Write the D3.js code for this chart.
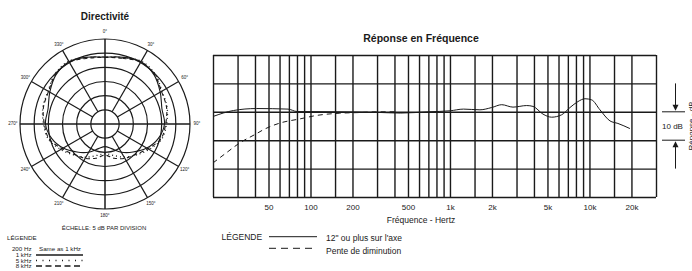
<!DOCTYPE html>
<html>
<head>
<meta charset="utf-8">
<script src="https://cdn.jsdelivr.net/npm/d3@7"></script>
<style>
  body { margin: 0; background: #fff; }
  svg { font-family: "Liberation Sans", Arial, sans-serif; }
</style>
</head>
<body>
<div id="chart"></div>
<script>
// polar pattern, dB at each angle (0..180, mirrored for the other side)
const polarAngles = [0, 15, 30, 45, 60, 75, 90, 105, 120, 135, 150, 165, 180];
const pol1k = [-6.4, -5.6, -4.6, -5.5, -7.5, -9.2, -9.0, -10.5, -13, -16, -18.5, -21, -22];
const pol5k = [-6.3, -5.7, -4.4, -5.0, -6.8, -7.3, -8.3, -9.3, -12, -14.5, -16.5, -18.5, -19.5];
const pol8k = [-6.5, -6.0, -4.8, -5.3, -7.0, -7.5, -8.6, -9.6, -12.5, -14.8, -16, -17.5, -19];
const ringDb = [-25, -20, -15, -10, -5, 0];
const spokeAngles = [0, 30, 60, 90, 120, 150, 180, 210, 240, 270, 300, 330];

// frequency response
const respFreq = [20, 28, 41, 69, 80, 150, 300, 440, 700, 1000, 1250, 1640, 1990, 2350, 2830, 3550, 3940, 4640, 5360, 6320, 7250, 8270, 9290, 10370, 11890, 14030, 16000, 19500];
const respDb = [-1.65, 0.45, 1.15, 0.95, 0.1, 0, -0.2, -0.45, 0, 0.35, 0.95, 0.7, 1.5, 2.5, 1.65, 2.2, 1.9, -0.8, -1.9, -1.05, 1.5, 3.6, 4.6, 4.2, 0.7, -3.2, -4.1, -5.9];
const rollFreq = [20, 25, 31, 41, 46, 61, 84, 110, 162, 227, 300, 400];
const rollDb = [-18, -14.4, -11, -7.7, -6.3, -3.9, -2.5, -1.3, -0.5, -0.25, 0, 0];
const gridFreqs = [20, 30, 40, 50, 60, 70, 80, 90, 100, 150, 200, 300, 400, 500, 600, 700, 800, 900,
  1000, 1500, 2000, 3000, 4000, 5000, 6000, 7000, 8000, 9000, 10000, 15000, 20000, 30000];
const tickFreqs = [50, 100, 200, 500, 1000, 2000, 5000, 10000, 20000];
const tickLabels = ["50", "100", "200", "500", "1k", "2k", "5k", "10k", "20k"];
const gridDb = [-30, -20, -10, 0, 10, 20];

const width = 692, height = 271;
const ink = "#1a1a1a";

const svg = d3.select("#chart").append("svg").attr("width", width).attr("height", height);

// ---------- polar ----------
const cx = 105, cy = 124, R = 85;
const rScale = d3.scaleLinear().domain([-30, 0]).range([0, R]);
const pg = svg.append("g").attr("transform", `translate(${cx},${cy})`);

svg.append("text")
  .attr("x", cx).attr("y", 20)
  .attr("text-anchor", "middle")
  .style("font-size", "10px").style("font-weight", "bold")
  .style("fill", ink)
  .text("Directivité");

pg.selectAll(".ring").data(ringDb).join("circle")
  .attr("r", d => rScale(d))
  .attr("fill", "none").attr("stroke", ink).attr("stroke-width", 1.2);

pg.selectAll(".spoke").data(spokeAngles).join("line")
  .attr("x1", d => (d % 90 === 0 ? 0 : rScale(ringDb[0])) * Math.sin(d * Math.PI / 180))
  .attr("y1", d => -(d % 90 === 0 ? 0 : rScale(ringDb[0])) * Math.cos(d * Math.PI / 180))
  .attr("x2", d => R * Math.sin(d * Math.PI / 180))
  .attr("y2", d => -R * Math.cos(d * Math.PI / 180))
  .attr("stroke", ink).attr("stroke-width", d => d % 90 === 0 ? 1.5 : 1.2);

pg.selectAll(".alabel").data(spokeAngles).join("text")
  .attr("x", d => 92 * Math.sin(d * Math.PI / 180))
  .attr("y", d => -92 * Math.cos(d * Math.PI / 180))
  .attr("text-anchor", "middle").attr("dominant-baseline", "middle")
  .style("font-size", "4.5px").style("fill", ink)
  .text(d => d + "°");

function mirror(vals) {
  const pts = polarAngles.map((a, i) => ({ a: a, db: vals[i] }));
  const back = polarAngles.slice(1, -1).reverse().map(a => ({ a: 360 - a, db: vals[polarAngles.indexOf(a)] }));
  return pts.concat(back);
}

const radial = d3.lineRadial()
  .angle(d => d.a * Math.PI / 180)
  .radius(d => rScale(d.db))
  .curve(d3.curveCardinalClosed);

pg.append("path").attr("d", radial(mirror(pol5k)))
  .attr("fill", "none").attr("stroke", ink).attr("stroke-width", 1.3)
  .attr("stroke-dasharray", "1,3");
pg.append("path").attr("d", radial(mirror(pol8k)))
  .attr("fill", "none").attr("stroke", ink).attr("stroke-width", 1.1)
  .attr("stroke-dasharray", "4,3");
pg.append("path").attr("d", radial(mirror(pol1k)))
  .attr("fill", "none").attr("stroke", ink).attr("stroke-width", 1.1);

svg.append("text")
  .attr("x", 104).attr("y", 230)
  .attr("text-anchor", "middle")
  .style("font-size", "6px").style("fill", ink)
  .text("ÉCHELLE: 5 dB PAR DIVISION");

svg.append("text")
  .attr("x", 7).attr("y", 239.5)
  .style("font-size", "6.2px").style("fill", ink)
  .text("LÉGENDE");

const polLegend = [
  { label: "200 Hz", y: 249, dash: null },
  { label: "1 kHz", y: 255, dash: "" },
  { label: "5 kHz", y: 260.5, dash: "1,5.5" },
  { label: "8 kHz", y: 266, dash: "6,3.5" }
];
polLegend.forEach(d => {
  svg.append("text")
    .attr("x", 31.5).attr("y", d.y + 2)
    .attr("text-anchor", "end")
    .style("font-size", "6.2px").style("fill", ink)
    .text(d.label);
  if (d.dash !== null) {
    svg.append("line")
      .attr("x1", 36).attr("x2", 83).attr("y1", d.y).attr("y2", d.y)
      .attr("stroke", ink).attr("stroke-width", d.dash === "1,5.5" ? 1.4 : 1.3)
      .attr("stroke-dasharray", d.dash);
  }
});
svg.append("text")
  .attr("x", 39).attr("y", 251)
  .style("font-size", "6.2px").style("fill", ink)
  .text("Same as 1 kHz");

// ---------- frequency response ----------
const x = d3.scaleLog().domain([20, 30000]).range([213, 656]);
const y = d3.scaleLinear().domain([-30, 20]).range([197, 55]);

svg.append("text")
  .attr("x", 421).attr("y", 42)
  .attr("text-anchor", "middle")
  .style("font-size", "10.5px").style("font-weight", "bold")
  .style("fill", ink)
  .text("Réponse en Fréquence");

const vgrid = svg.append("g")
  .attr("transform", `translate(0,${y(-30)})`)
  .call(d3.axisBottom(x).tickValues(gridFreqs).tickSize(-(y(-30) - y(20))).tickFormat(""));
vgrid.select(".domain").remove();
vgrid.selectAll("line").attr("stroke", ink).attr("stroke-width", 1.4);

const hgrid = svg.append("g")
  .attr("transform", `translate(${x(20)},0)`)
  .call(d3.axisLeft(y).tickValues(gridDb).tickSize(-(x(30000) - x(20))).tickFormat(""));
hgrid.select(".domain").remove();
hgrid.selectAll("line").attr("stroke", ink).attr("stroke-width", 1.4);

const xlab = svg.append("g")
  .attr("transform", `translate(0,${y(-30) + 4})`)
  .call(d3.axisBottom(x).tickValues(tickFreqs).tickSize(0).tickFormat((d, i) => tickLabels[i]));
xlab.select(".domain").remove();
xlab.selectAll("text")
  .style("font-family", "Liberation Sans, Arial, sans-serif")
  .style("font-size", "8px").style("fill", ink);

svg.append("text")
  .attr("x", 421).attr("y", 223)
  .attr("text-anchor", "middle")
  .style("font-size", "8.5px").style("fill", ink)
  .text("Fréquence - Hertz");

const line = d3.line()
  .x(d => x(d[0]))
  .y(d => y(d[1]))
  .curve(d3.curveMonotoneX);

svg.append("path")
  .attr("d", line(rollFreq.map((f, i) => [f, rollDb[i]])))
  .attr("fill", "none").attr("stroke", ink).attr("stroke-width", 1)
  .attr("stroke-dasharray", "5,4");

svg.append("path")
  .attr("d", line(respFreq.map((f, i) => [f, respDb[i]])))
  .attr("fill", "none").attr("stroke", ink).attr("stroke-width", 1);

// 10 dB scale marker
svg.append("line").attr("x1", 662).attr("x2", 685).attr("y1", y(0)).attr("y2", y(0))
  .attr("stroke", ink).attr("stroke-width", 1);
svg.append("line").attr("x1", 662).attr("x2", 685).attr("y1", y(-10)).attr("y2", y(-10))
  .attr("stroke", ink).attr("stroke-width", 1);
svg.append("line").attr("x1", 675.5).attr("x2", 675.5).attr("y1", y(10)).attr("y2", y(0) - 6)
  .attr("stroke", ink).attr("stroke-width", 1);
svg.append("path")
  .attr("d", `M672.5,${y(0) - 7} L678.5,${y(0) - 7} L675.5,${y(0) - 1} Z`)
  .attr("fill", ink);
svg.append("line").attr("x1", 675.5).attr("x2", 675.5).attr("y1", y(-20)).attr("y2", y(-10) + 6)
  .attr("stroke", ink).attr("stroke-width", 1);
svg.append("path")
  .attr("d", `M672.5,${y(-10) + 7} L678.5,${y(-10) + 7} L675.5,${y(-10) + 1} Z`)
  .attr("fill", ink);
svg.append("text")
  .attr("x", 672.5).attr("y", y(-5) + 3)
  .attr("text-anchor", "middle")
  .style("font-size", "8px").style("fill", ink)
  .text("10 dB");
svg.append("text")
  .attr("transform", `translate(694,${y(-5)}) rotate(-90)`)
  .attr("text-anchor", "middle")
  .style("font-size", "8px").style("fill", ink)
  .text("Réponse - dB");

// legend
svg.append("text")
  .attr("x", 221.5).attr("y", 240)
  .style("font-size", "8.5px").style("fill", ink)
  .text("LÉGENDE");
svg.append("line").attr("x1", 269).attr("x2", 317).attr("y1", 236.7).attr("y2", 236.7)
  .attr("stroke", ink).attr("stroke-width", 1);
svg.append("line").attr("x1", 269).attr("x2", 317).attr("y1", 248.3).attr("y2", 248.3)
  .attr("stroke", ink).attr("stroke-width", 1).attr("stroke-dasharray", "7,5");
svg.append("text")
  .attr("x", 326).attr("y", 241.3)
  .style("font-size", "8.5px").style("fill", ink)
  .text("12\" ou plus sur l'axe");
svg.append("text")
  .attr("x", 326).attr("y", 253.7)
  .style("font-size", "8.5px").style("fill", ink)
  .text("Pente de diminution");
</script>
</body>
</html>
